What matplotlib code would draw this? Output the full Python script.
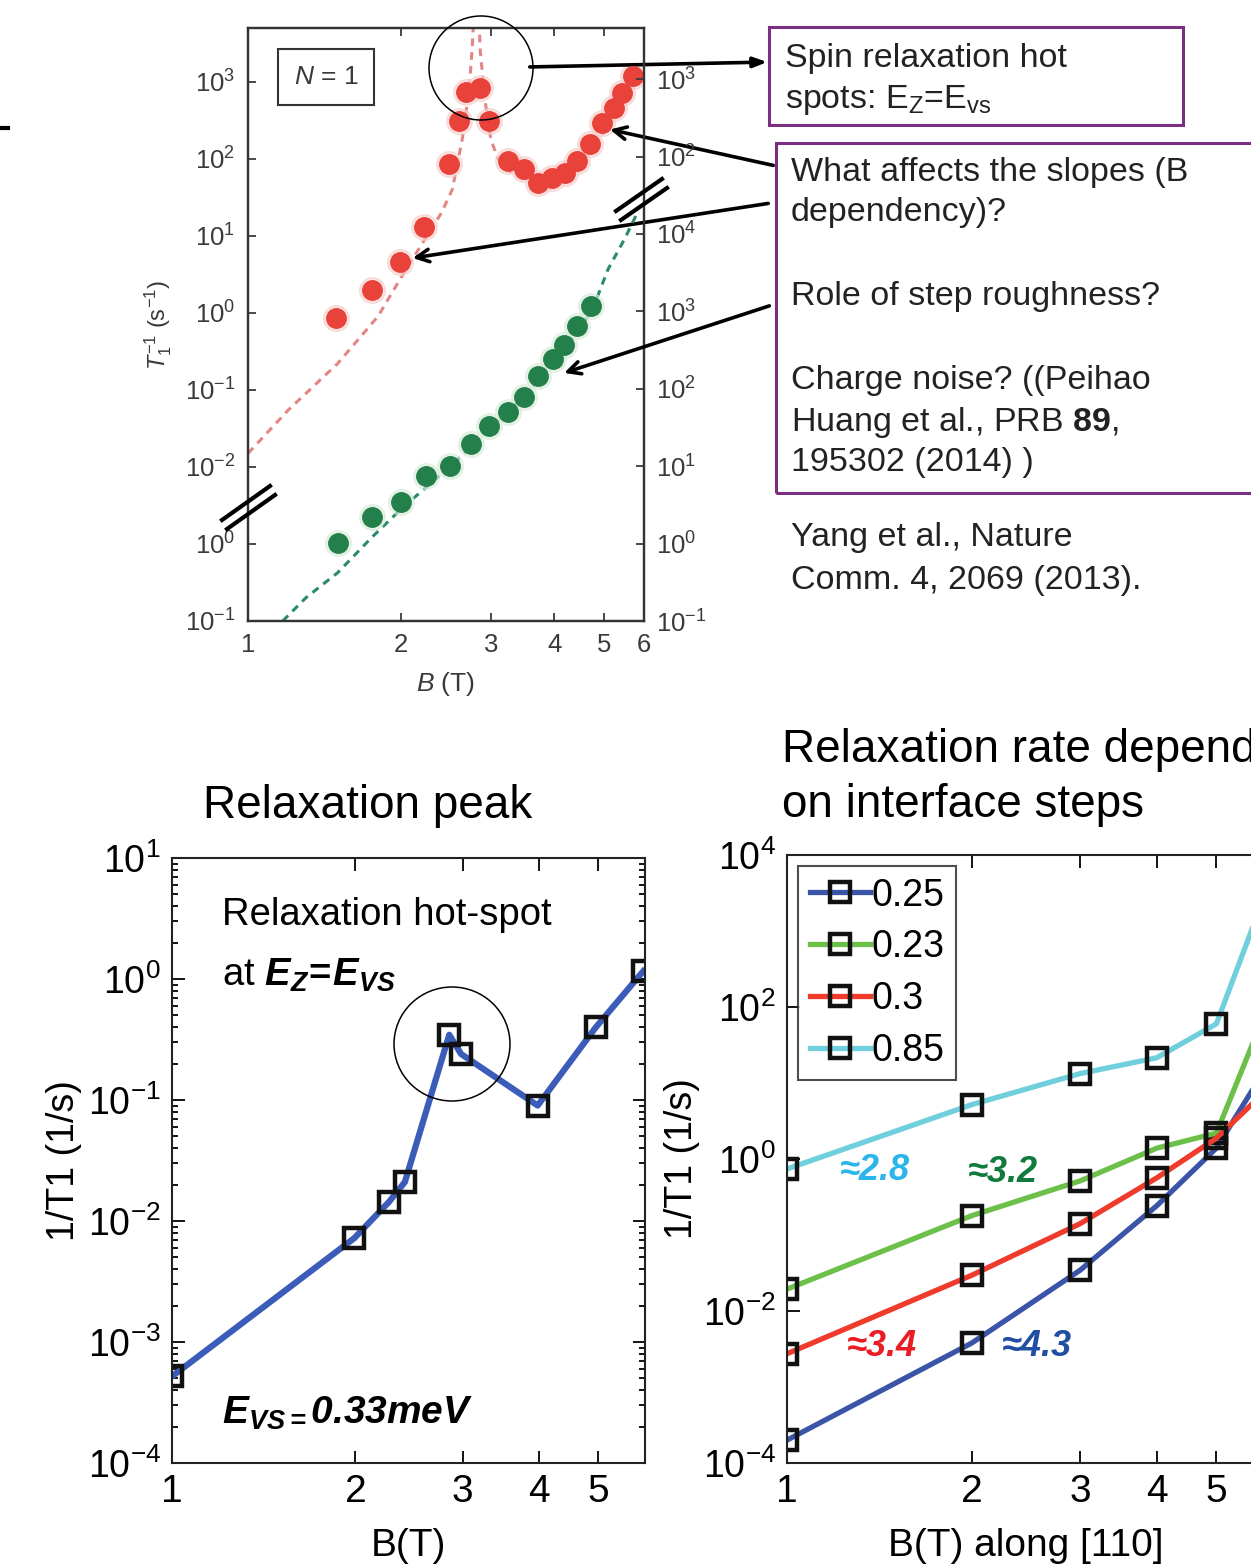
import matplotlib
matplotlib.use('Agg')
import matplotlib.pyplot as plt
from matplotlib.patches import Ellipse, Rectangle
from matplotlib.lines import Line2D
from matplotlib.ticker import FixedLocator, FixedFormatter, NullLocator, NullFormatter, LogLocator

plt.rcParams['font.family'] = ['Liberation Sans', 'DejaVu Sans']
plt.rcParams['mathtext.fontset'] = 'custom'
plt.rcParams['mathtext.rm'] = 'Liberation Sans'
plt.rcParams['mathtext.it'] = 'Liberation Sans:italic'
plt.rcParams['mathtext.bf'] = 'Liberation Sans:bold'
try:
    plt.rcParams['mathtext.bfit'] = 'Liberation Sans:italic:bold'
except KeyError:
    pass

# ---- top panel (Yang et al.), N = 1 ----
red_b = [1.49, 1.75, 1.99, 2.22, 2.48, 2.60, 2.68, 2.86, 2.98, 3.24,
         3.49, 3.72, 3.96, 4.19, 4.44, 4.69, 4.97, 5.23, 5.44, 5.72]
red_rate = [0.85, 2.0, 4.6, 13.2, 86, 310, 740, 830, 310, 95,
            75, 49, 57, 66, 95, 157, 294, 457, 716, 1190]
red_fit_b = [1.0, 1.2, 1.5, 1.8, 2.0, 2.2, 2.4, 2.52, 2.64, 2.72, 2.76, 2.78,
             2.84, 2.86, 2.92, 3.0, 3.1, 3.3, 3.6, 3.9, 4.2, 4.5, 4.8, 5.1, 5.5, 5.9]
red_fit = [0.015, 0.055, 0.22, 0.9, 2.9, 8, 20, 40, 190, 800, 3000, 9000,
           9000, 2500, 600, 180, 100, 65, 48, 45, 55, 85, 150, 270, 600, 1300]

green_b = [1.50, 1.75, 2.00, 2.24, 2.49, 2.74, 2.98, 3.25, 3.49, 3.72, 3.97, 4.18, 4.44, 4.72]
green_rate = [1.03, 2.18, 3.4, 7.5, 10.1, 19.3, 33, 50, 78, 145, 243, 368, 655, 1167]
green_fit_b = [1.17, 1.3, 1.5, 1.75, 2.0, 2.25, 2.5, 2.75, 3.0, 3.5, 4.0, 4.5, 4.8, 5.1, 5.5, 5.85]
green_fit = [0.1, 0.2, 0.42, 1.2, 2.8, 5.5, 10, 18, 32, 80, 230, 600, 1250, 3500, 8700, 20000]

left_ticks = [1e-4, 1e-3, 1e-2, 1e-1, 1, 10, 100, 1000]
left_labels = ['$10^{-1}$', '$10^{0}$', '$10^{-2}$', '$10^{-1}$', '$10^{0}$',
               '$10^{1}$', '$10^{2}$', '$10^{3}$']
right_ticks = [1e-1, 1, 10, 100, 1e3, 1e4, 1e5, 1e6]
right_labels = ['$10^{-1}$', '$10^{0}$', '$10^{1}$', '$10^{2}$', '$10^{3}$',
                '$10^{4}$', '$10^{2}$', '$10^{3}$']

# ---- bottom left: relaxation peak ----
peak_b = [1.0, 1.99, 2.27, 2.41, 2.85, 2.98, 3.98, 4.96, 5.93]
peak_rate = [5.2e-4, 7.2e-3, 0.0144, 0.021, 0.346, 0.24, 0.090, 0.40, 1.16]

# ---- bottom right: interface steps ----
step_b = [1, 2, 3, 4, 5, 6]
step_labels = ['0.25', '0.23', '0.3', '0.85']
step_colors = ['#3a55a8', '#6cc04a', '#ee3b2c', '#6fcfdc']
step_rates = [
    [2.0e-4, 3.8e-3, 0.0344, 0.243, 1.39, 15],
    [0.0194, 0.18, 0.515, 1.39, 2.19, 83],
    [2.74e-3, 0.0296, 0.141, 0.565, 1.88, 7.7],
    [0.74, 5.2, 13.3, 21.5, 60, 3000],
]
slope_texts = ['≈2.8', '≈3.2', '≈3.4', '≈4.3']
slope_colors = ['#2bb5ea', '#117a3c', '#ea1c24', '#1f4ea3']

W, H = 1251, 1568


def fx(x):
    return x / W


def fy(y):
    return 1 - y / H


fig = plt.figure(figsize=(W / 100, H / 100), dpi=100)

# ================= top panel =================
gray = '#3a3a3a'
ax = fig.add_axes([fx(248), fy(621), (644 - 248) / W, (621 - 28) / H])
ax.set_xscale('log')
ax.set_yscale('log')
ax.plot(red_fit_b, red_fit, color='#e07070', lw=2.2, dashes=(2.5, 2), alpha=0.85)
ax.plot(red_b, red_rate, 'o', color='#f6cfcb', ms=18.5, alpha=0.6, zorder=3)
ax.plot(red_b, red_rate, 'o', color='#e8423a', ms=14, zorder=4)
ax.set_xlim(1, 6)
ax.set_ylim(1e-4, 10 ** 3.7)
ax.yaxis.set_major_locator(FixedLocator(left_ticks))
ax.yaxis.set_major_formatter(FixedFormatter(left_labels))
ax.yaxis.set_minor_locator(NullLocator())
ax.xaxis.set_major_locator(FixedLocator([1, 2, 3, 4, 5, 6]))
ax.xaxis.set_major_formatter(FixedFormatter(['1', '2', '3', '4', '5', '6']))
ax.xaxis.set_minor_locator(NullLocator())
ax.tick_params(which='both', direction='in', length=6, width=1.3, colors=gray,
               labelsize=18.5, top=True, right=False, pad=9)
for s in ax.spines.values():
    s.set_color('#333333')
    s.set_linewidth(1.6)
ax.set_xlabel('$B$ (T)', fontsize=19, color=gray, labelpad=9)
ax.set_ylabel('$T_1^{-1}$ (s$^{-1}$)', fontsize=17, color=gray, labelpad=8)

ax2 = ax.twinx()
ax2.set_yscale('log')
ax2.plot(green_fit_b, green_fit, color='#2a8a6c', lw=2.2, dashes=(2.5, 2))
ax2.plot(green_b, green_rate, 'o', color='#d7ecd9', ms=18.5, alpha=0.6, zorder=3)
ax2.plot(green_b, green_rate, 'o', color='#24804a', ms=14, zorder=4)
ax2.set_ylim(1e-1, 10 ** 6.66)
ax2.yaxis.set_major_locator(FixedLocator(right_ticks))
ax2.yaxis.set_major_formatter(FixedFormatter(right_labels))
ax2.yaxis.set_minor_locator(NullLocator())
ax2.tick_params(which='both', direction='in', length=6, width=1.3, colors=gray,
                labelsize=18.5, pad=9)
for s in ax2.spines.values():
    s.set_color('#333333')
    s.set_linewidth(1.6)

ax.text(0.197, 0.917, '$N$ = 1', transform=ax.transAxes, ha='center', va='center',
        fontsize=19, color=gray,
        bbox=dict(boxstyle='square,pad=0.6', fc='white', ec='#333333', lw=1.5))

# axis break marks
for dx, dy in [(0, 0), (5, 9)]:
    fig.add_artist(Line2D([fx(222 + dx), fx(270 + dx)], [fy(520 + dy), fy(486 + dy)],
                          color='black', lw=3))
    fig.add_artist(Line2D([fx(616 + dx), fx(662 + dx)], [fy(211 + dy), fy(179 + dy)],
                          color='black', lw=3))

# hot-spot circle and arrows
fig.add_artist(Ellipse((fx(481), fy(68)), 2 * 52 / W, 2 * 52 / H, transform=fig.transFigure,
                       fill=False, ec='black', lw=1.1))
fig.add_artist(Line2D([fx(0), fx(8)], [fy(128), fy(128)], color='black', lw=3))

arrow_kw = dict(arrowstyle='->,head_length=0.9,head_width=0.45', color='black', lw=2.6)
ax.annotate('', xy=(fx(770), fy(62)), xycoords='figure fraction',
            xytext=(fx(527), fy(67)), textcoords='figure fraction',
            arrowprops=dict(arrowstyle='-|>,head_length=0.8,head_width=0.3',
                            color='black', lw=2.6), annotation_clip=False)
ax.annotate('', xy=(5.08, 245), xytext=(fx(776), fy(166)), textcoords='figure fraction',
            arrowprops=arrow_kw, annotation_clip=False)
ax.annotate('', xy=(2.08, 5.1), xytext=(fx(771), fy(203)), textcoords='figure fraction',
            arrowprops=arrow_kw, annotation_clip=False)
ax2.annotate('', xy=(4.13, 156), xytext=(fx(772), fy(305)), textcoords='figure fraction',
             arrowprops=arrow_kw, annotation_clip=False)

# annotation boxes
purple = '#7a2f80'
fig.add_artist(Rectangle((fx(769), fy(125)), (1183 - 769) / W, (125 - 27) / H,
                         transform=fig.transFigure, fill=False, ec=purple, lw=2.2))
fig.add_artist(Rectangle((fx(776), fy(493)), (1300 - 776) / W, (493 - 143) / H,
                         transform=fig.transFigure, fill=False, ec=purple, lw=2.2))
note_kw = dict(fontsize=24.5, color='#222222', ha='left', va='center')
fig.text(fx(785), fy(58), 'Spin relaxation hot', **note_kw)
fig.text(fx(785), fy(100), r'spots: E$_\mathrm{Z}$=E$_\mathrm{vs}$', **note_kw)
box_lines = [(173, 'What affects the slopes (B'), (213, 'dependency)?'),
             (296, 'Role of step roughness?'), (380, 'Charge noise? ((Peihao'),
             (422, r'Huang et al., PRB $\mathbf{89}$,'), (463, '195302 (2014) )'),
             (538, 'Yang et al., Nature'), (580, 'Comm. 4, 2069 (2013).')]
for yy, line in box_lines:
    fig.text(fx(791), fy(yy), line, **note_kw)

# ================= bottom left =================
tick_kw = dict(which='both', direction='in', top=True, right=True, width=1.3)
ax3 = fig.add_axes([fx(172), fy(1463), (645 - 172) / W, (1463 - 858) / H])
ax3.loglog(peak_b, peak_rate, color='#3b5cb8', lw=4.5, marker='s', ms=14,
           mfc='none', mec='#111111', mew=3.2)
ax3.set_xlim(1, 5.97)
ax3.set_ylim(1e-4, 10)
ax3.xaxis.set_major_locator(FixedLocator([1, 2, 3, 4, 5]))
ax3.xaxis.set_major_formatter(FixedFormatter(['1', '2', '3', '4', '5']))
ax3.xaxis.set_minor_locator(NullLocator())
ax3.yaxis.set_major_locator(LogLocator(base=10, numticks=10))
ax3.yaxis.set_minor_locator(LogLocator(base=10, subs=range(2, 10), numticks=10))
ax3.yaxis.set_minor_formatter(NullFormatter())
ax3.tick_params(**tick_kw)
ax3.tick_params(which='major', length=9, labelsize=27, pad=8)
ax3.tick_params(which='minor', length=4)
ax3.tick_params(axis='x', labelsize=28)
for s in ax3.spines.values():
    s.set_linewidth(1.5)
    s.set_color('#222222')
ax3.set_xlabel('B(T)', fontsize=28, labelpad=13)
ax3.set_ylabel('1/T1 (1/s)', fontsize=27, labelpad=4)
fig.text(fx(368), fy(806), 'Relaxation peak', fontsize=33, ha='center', va='center')
fig.text(fx(222), fy(915), 'Relaxation hot-spot', fontsize=27.5, ha='left', va='center')
fig.text(fx(222), fy(975), r'at $\mathbfit{E_{Z}}\!\mathbf{=}\!\mathbfit{E_{VS}}$',
         fontsize=27.5, ha='left', va='center')
fig.text(fx(222), fy(1413), r'$\mathbfit{E_{VS=}0.33meV}$', fontsize=28,
         ha='left', va='center')
fig.add_artist(Ellipse((fx(452), fy(1044)), 2 * 58 / W, 2 * 57 / H,
                       transform=fig.transFigure, fill=False, ec='black', lw=1.1))

# ================= bottom right =================
ax4 = fig.add_axes([fx(787), fy(1463), (1265 - 787) / W, (1463 - 855) / H])
for rates, lab, col in zip(step_rates, step_labels, step_colors):
    ax4.loglog(step_b, rates, color=col, lw=3.8, marker='s', ms=14,
               mfc='none', mec='#111111', mew=3.2, label=lab)
ax4.set_xlim(1, 6)
ax4.set_ylim(1e-4, 1e4)
ax4.xaxis.set_major_locator(FixedLocator([1, 2, 3, 4, 5]))
ax4.xaxis.set_major_formatter(FixedFormatter(['1', '2', '3', '4', '5']))
ax4.xaxis.set_minor_locator(NullLocator())
ax4.yaxis.set_major_locator(FixedLocator([1e-4, 1e-2, 1, 1e2, 1e4]))
ax4.yaxis.set_minor_locator(NullLocator())
ax4.tick_params(**tick_kw)
ax4.tick_params(which='major', length=9, labelsize=27, pad=8)
ax4.tick_params(axis='x', labelsize=28)
for s in ax4.spines.values():
    s.set_linewidth(1.5)
    s.set_color('#222222')
ax4.set_xlabel('B(T) along [110]', fontsize=28, labelpad=13)
ax4.set_ylabel('1/T1 (1/s)', fontsize=27, labelpad=2)
leg = ax4.legend(loc='upper left', fontsize=27, frameon=True, fancybox=False,
                 handlelength=1.6, handletextpad=0.05, labelspacing=0.42,
                 borderpad=0.3, borderaxespad=0.3)
leg.get_frame().set_edgecolor('#222222')
leg.get_frame().set_linewidth(1.5)

fig.text(fx(782), fy(750), 'Relaxation rate dependence', fontsize=33, ha='left', va='center')
fig.text(fx(782), fy(805), 'on interface steps', fontsize=33, ha='left', va='center')
slope_pos = [(875, 1170), (1003, 1172), (882, 1347), (1037, 1347)]
for (px, py), txt, col in zip(slope_pos, slope_texts, slope_colors):
    fig.text(fx(px), fy(py), txt, fontsize=26, color=col, fontweight='bold',
             style='italic', ha='center', va='center')

fig.savefig('out.png', dpi=100)
